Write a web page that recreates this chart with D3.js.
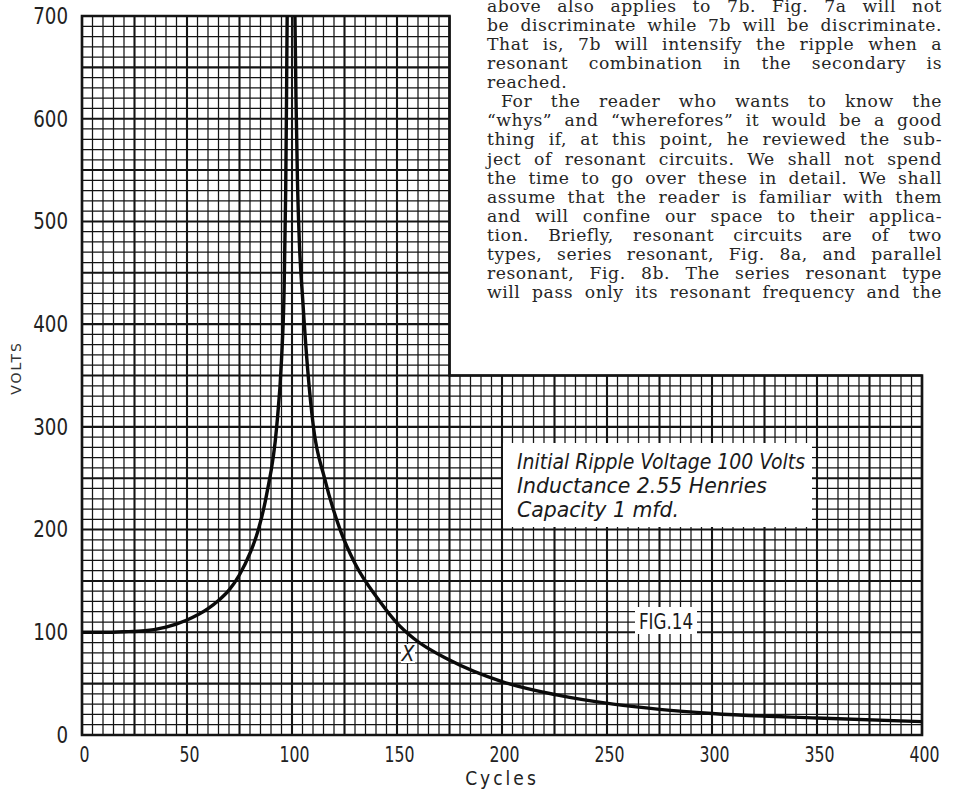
<!DOCTYPE html>
<html><head><meta charset="utf-8">
<script src="https://cdn.jsdelivr.net/npm/d3@7"></script>
<style>body{margin:0;background:#fff}</style>
</head><body>
<svg id="c" width="960" height="795"></svg>
<script>
// ---- data ----
const cycles = [0, 10, 20, 30, 40, 50, 60, 65, 70, 75, 80, 84, 88, 92.7, 95, 96.2, 97.0, 97.4, 97.7, 99.5, 101.4, 101.9, 102.6, 103.5, 105.1, 107.5, 110.2, 115.5, 122.9, 130, 141.5, 150, 158, 175, 200, 226, 253, 275, 300, 350, 400];
const volts  = [100, 100, 100.5, 101.5, 105, 112, 123, 131, 141, 156, 177, 200, 235, 300, 365, 430, 530, 620, 700, 820, 700, 620, 540, 480, 424, 355, 300, 250, 200, 167, 131, 109, 94, 73, 52, 39, 30, 25, 21, 16.5, 13];
const xTickValues = [0, 50, 100, 150, 200, 250, 300, 350, 400];
const yTickValues = [0, 100, 200, 300, 400, 500, 600, 700];
const xTitle = "Cycles";
const yTitle = "VOLTS";
const noteLines = ["Initial Ripple Voltage 100 Volts", "Inductance 2.55 Henries", "Capacity 1 mfd."];
const figLabel = "FIG.14";
const pointLabel = "X";
const articleLines = [
  "above also applies to 7b.  Fig. 7a will not",
  "be discriminate while 7b will be discriminate.",
  "That is, 7b will intensify the ripple when a",
  "resonant combination in the secondary is",
  "reached.",
  "For the reader who wants to know the",
  "\u201cwhys\u201d and \u201cwherefores\u201d it would be a good",
  "thing if, at this point, he reviewed the sub-",
  "ject of resonant circuits. We shall not spend",
  "the time to go over these in detail. We shall",
  "assume that the reader is familiar with them",
  "and will confine our space to their applica-",
  "tion.  Briefly, resonant circuits are of two",
  "types, series resonant, Fig. 8a, and parallel",
  "resonant, Fig. 8b.  The series resonant type",
  "will pass only its resonant frequency and the"
];
const articleUnjustified = [4];
const articleIndented = [5];

// ---- chart ----
const svg = d3.select("#c");
svg.append("rect").attr("width", 960).attr("height", 795).attr("fill", "#fff");

const x = d3.scaleLinear().domain([0, 400]).range([82, 922]);
const y = d3.scaleLinear().domain([0, 700]).range([735, 16]);
const cutX = 175, cutY = 350;
const ink = "#141414";

const grid = svg.append("g");
d3.range(0, 401, 5).forEach(c => {
  const top = c <= cutX ? 700 : cutY;
  grid.append("line")
    .attr("x1", x(c)).attr("x2", x(c)).attr("y1", y(0)).attr("y2", y(top))
    .attr("stroke", ink).attr("stroke-width", c % 25 === 0 ? 2.1 : 1.25);
});
d3.range(0, 701, 10).forEach(v => {
  const right = v <= cutY ? 400 : cutX;
  grid.append("line")
    .attr("x1", x(0)).attr("x2", x(right)).attr("y1", y(v)).attr("y2", y(v))
    .attr("stroke", ink).attr("stroke-width", v % 50 === 0 ? 2.1 : 1.25);
});
const border = [[0,0],[400,0],[400,cutY],[cutX,cutY],[cutX,700],[0,700]];
svg.append("path")
  .attr("d", "M" + border.map(p => x(p[0]) + "," + y(p[1])).join("L") + "Z")
  .attr("fill", "none").attr("stroke", ink).attr("stroke-width", 2.6);

// annotation boxes
svg.append("rect").attr("x", 503).attr("y", 443).attr("width", 309).attr("height", 84).attr("fill", "#fff");
svg.append("rect").attr("x", 635).attr("y", 607).attr("width", 62).attr("height", 27).attr("fill", "#fff");
svg.append("rect").attr("x", 401).attr("y", 644).attr("width", 14).attr("height", 19).attr("fill", "#fff");

// curve
svg.append("clipPath").attr("id", "clip").append("rect")
  .attr("x", x(0)).attr("y", y(700)).attr("width", x(400) - x(0)).attr("height", y(0) - y(700));
const pts = cycles.map((c, i) => [c, volts[i]]);
svg.append("path").datum(pts)
  .attr("clip-path", "url(#clip)")
  .attr("d", d3.line().x(d => x(d[0])).y(d => y(d[1])).curve(d3.curveMonotoneX))
  .attr("fill", "none").attr("stroke", "#0a0a0a").attr("stroke-width", 3.4)
  .attr("stroke-linejoin", "round");

// axes labels
const tickFont = "'DejaVu Sans Condensed','DejaVu Sans',sans-serif";
const yAxis = d3.axisLeft(y).tickValues(yTickValues).tickSize(0).tickPadding(13);
const ya = svg.append("g").attr("transform", `translate(${x(0) - 1},0)`).call(yAxis);
ya.select(".domain").remove();
ya.selectAll("text").attr("font-family", tickFont).attr("font-size", 23).attr("fill", "#222")
  .attr("textLength", d => String(d).length * 11.6).attr("lengthAdjust", "spacingAndGlyphs");

const xAxis = d3.axisBottom(x).tickValues(xTickValues).tickSize(0).tickPadding(11);
const xa = svg.append("g").attr("transform", `translate(2,${y(0)})`).call(xAxis);
xa.select(".domain").remove();
xa.selectAll("text").attr("font-family", tickFont).attr("font-size", 22).attr("fill", "#222")
  .attr("textLength", d => String(d).length * 10).attr("lengthAdjust", "spacingAndGlyphs");

svg.append("text").attr("x", x(200)).attr("y", 785).attr("text-anchor", "middle")
  .attr("font-family", "'DejaVu Sans Condensed','DejaVu Sans',sans-serif").attr("font-size", 19)
  .attr("letter-spacing", 3).attr("fill", "#222").text(xTitle);
svg.append("text").attr("transform", "translate(21,368) rotate(-90)").attr("text-anchor", "middle")
  .attr("font-family", "'DejaVu Sans',sans-serif").attr("font-size", 14)
  .attr("letter-spacing", 2).attr("fill", "#333").text(yTitle);

// annotation text
const noteFont = "'DejaVu Sans Condensed','DejaVu Sans',sans-serif";
const noteWidths = [288, 250, 162];
noteLines.forEach((t, i) => {
  svg.append("text").attr("x", 517).attr("y", 469 + i * 24)
    .attr("font-family", noteFont).attr("font-style", "italic").attr("font-size", 22)
    .attr("textLength", noteWidths[i]).attr("lengthAdjust", "spacingAndGlyphs")
    .attr("fill", "#1a1a1a").text(t);
});
svg.append("text").attr("x", 666).attr("y", 629).attr("text-anchor", "middle")
  .attr("font-family", noteFont).attr("font-size", 22).attr("fill", "#1a1a1a")
  .attr("textLength", 54).attr("lengthAdjust", "spacingAndGlyphs").text(figLabel);
svg.append("text").attr("x", 408).attr("y", 661).attr("text-anchor", "middle")
  .attr("font-family", noteFont).attr("font-style", "italic").attr("font-size", 21)
  .attr("fill", "#1a1a1a").text(pointLabel);

// article text, justified
const aLeft = 487, aRight = 942, aTop = 12, aStep = 19.07;
const art = svg.append("g").attr("font-family", "'DejaVu Serif',serif").attr("font-size", 17.2)
  .attr("letter-spacing", 0.55).attr("fill", "#262626");
articleLines.forEach((line, i) => {
  const words = line.split(/\s+/);
  const left = aLeft + (articleIndented.includes(i) ? 14 : 0);
  const by = aTop + i * aStep;
  const nodes = words.map(w => art.append("text").attr("y", by).text(w));
  const widths = nodes.map(n => n.node().getComputedTextLength());
  const total = d3.sum(widths);
  const justify = !articleUnjustified.includes(i) && words.length > 1;
  const gap = justify ? (aRight - left - total) / (words.length - 1) : 5;
  let cx = left;
  nodes.forEach((n, k) => { n.attr("x", cx); cx += widths[k] + gap; });
});
</script>
</body></html>
